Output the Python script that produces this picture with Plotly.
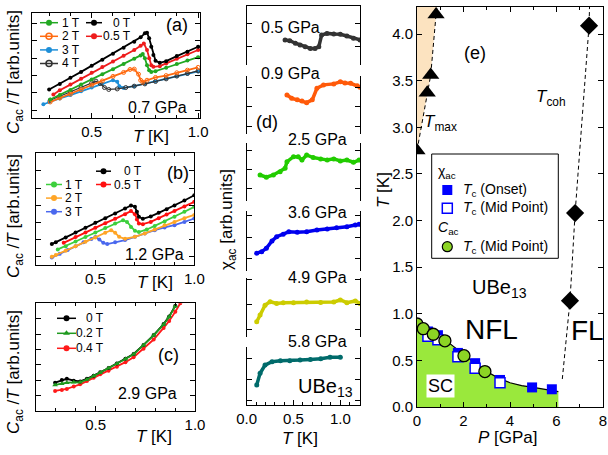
import plotly.graph_objects as go

W, H = 608, 455
FONT = "Liberation Sans, Arial, Helvetica, sans-serif"


def fx(px):
    return px / W


def fy(py):
    return 1 - py / H


def dom_x(a, b):
    return [fx(a), fx(b)]


def dom_y(top, bottom):
    return [fy(bottom), fy(top)]


# ================= DATA =================
# ---- (a) 0.7 GPa : C_ac/T [arb. units] vs T [K]
a_T_0T = [0.30, 0.35, 0.40, 0.45, 0.50, 0.55, 0.60, 0.65, 0.70, 0.73, 0.75, 0.76, 0.77, 0.78, 0.79, 0.80, 0.82, 0.85, 0.90, 0.95, 1.00]
a_y_0T = [1.20, 1.52, 1.87, 2.21, 2.56, 2.91, 3.26, 3.60, 3.95, 4.20, 4.43, 4.47, 4.14, 3.66, 3.18, 2.85, 2.73, 2.83, 3.12, 3.37, 3.66]
a_T_05T = [0.32, 0.35, 0.40, 0.45, 0.50, 0.55, 0.60, 0.65, 0.70, 0.73, 0.745, 0.76, 0.77, 0.78, 0.79, 0.82, 0.85, 0.90, 0.95, 1.00]
a_y_05T = [0.91, 1.16, 1.48, 1.81, 2.16, 2.49, 2.81, 3.14, 3.47, 3.72, 3.85, 3.47, 2.99, 2.60, 2.50, 2.54, 2.70, 2.97, 3.22, 3.47]
a_T_1T = [0.305, 0.35, 0.40, 0.45, 0.50, 0.55, 0.60, 0.65, 0.70, 0.73, 0.74, 0.75, 0.76, 0.77, 0.78, 0.80, 0.85, 0.90, 0.95, 1.00]
a_y_1T = [0.62, 0.88, 1.17, 1.48, 1.77, 2.08, 2.37, 2.66, 2.97, 3.16, 3.24, 2.99, 2.60, 2.31, 2.21, 2.25, 2.45, 2.66, 2.87, 3.06]
a_T_2T = [0.305, 0.35, 0.40, 0.45, 0.50, 0.55, 0.60, 0.65, 0.68, 0.70, 0.72, 0.73, 0.74, 0.76, 0.80, 0.85, 0.90, 0.95, 1.00]
a_y_2T = [0.48, 0.71, 0.94, 1.19, 1.45, 1.69, 1.95, 2.18, 2.35, 2.37, 2.08, 1.73, 1.62, 1.73, 1.89, 2.00, 2.16, 2.31, 2.47]
a_T_3T = [0.273, 0.30, 0.35, 0.40, 0.45, 0.50, 0.55, 0.60, 0.62, 0.63, 0.65, 0.70, 0.75, 0.80, 0.85, 0.90, 0.95, 1.00]
a_y_3T = [0.35, 0.48, 0.68, 0.88, 1.10, 1.31, 1.52, 1.73, 1.64, 1.39, 1.29, 1.39, 1.54, 1.69, 1.83, 1.97, 2.10, 2.24]
a_T_4T = [0.305, 0.35, 0.40, 0.45, 0.50, 0.52, 0.54, 0.56, 0.58, 0.62, 0.66, 0.70, 0.75, 0.80, 0.85, 0.90, 0.95, 1.00]
a_y_4T = [0.58, 0.81, 1.06, 1.31, 1.58, 1.68, 1.54, 1.31, 1.20, 1.23, 1.31, 1.39, 1.52, 1.66, 1.81, 1.97, 2.12, 2.27]

# ---- (b) 1.2 GPa
b_T_0T = [0.28, 0.30, 0.35, 0.40, 0.45, 0.50, 0.55, 0.60, 0.65, 0.68, 0.70, 0.71, 0.72, 0.74, 0.78, 0.82, 0.86, 0.90, 0.95, 1.00]
b_y_0T = [0.74, 0.85, 1.13, 1.42, 1.69, 1.98, 2.25, 2.52, 2.81, 2.99, 2.91, 2.62, 2.33, 2.21, 2.35, 2.56, 2.77, 2.99, 3.28, 3.59]
b_T_05T = [0.34, 0.40, 0.45, 0.50, 0.55, 0.60, 0.65, 0.68, 0.70, 0.71, 0.72, 0.74, 0.78, 0.82, 0.86, 0.90, 0.95, 1.00]
b_y_05T = [0.81, 1.15, 1.42, 1.69, 1.96, 2.21, 2.48, 2.66, 2.48, 2.17, 1.94, 1.90, 2.03, 2.25, 2.46, 2.67, 2.93, 3.20]
b_T_1T = [0.31, 0.35, 0.40, 0.45, 0.50, 0.55, 0.60, 0.64, 0.66, 0.68, 0.70, 0.72, 0.76, 0.80, 0.85, 0.90, 0.95, 1.00]
b_y_1T = [0.43, 0.62, 0.89, 1.15, 1.42, 1.67, 1.94, 2.13, 2.03, 1.74, 1.51, 1.44, 1.59, 1.80, 2.06, 2.33, 2.62, 2.91]
b_T_2T = [0.28, 0.30, 0.35, 0.40, 0.45, 0.50, 0.55, 0.58, 0.60, 0.62, 0.65, 0.70, 0.75, 0.80, 0.85, 0.90, 0.95, 1.00]
b_y_2T = [0.00, 0.10, 0.35, 0.62, 0.87, 1.13, 1.40, 1.55, 1.40, 1.16, 1.05, 1.16, 1.36, 1.59, 1.83, 2.03, 2.25, 2.44]
b_T_3T = [0.28, 0.32, 0.36, 0.40, 0.44, 0.48, 0.50, 0.52, 0.54, 0.56, 0.60, 0.65, 0.70, 0.75, 0.80, 0.85, 0.90, 0.95, 1.00]
b_y_3T = [-0.05, 0.17, 0.39, 0.62, 0.84, 1.03, 1.15, 1.01, 0.81, 0.74, 0.85, 0.97, 1.16, 1.36, 1.55, 1.71, 1.84, 2.03, 2.23]

# ---- (c) 2.9 GPa
c_T = [0.296, 0.33, 0.355, 0.39, 0.422, 0.456, 0.49, 0.523, 0.565, 0.607, 0.65, 0.691, 0.741, 0.792, 0.842, 0.87, 0.901]
c_y_0T = [0.85, 1.02, 1.10, 0.98, 0.93, 1.10, 1.30, 1.52, 1.80, 2.10, 2.40, 2.71, 3.30, 3.94, 4.65, 5.15, 5.84]
c_y_02T = [0.70, 0.78, 0.85, 0.87, 0.88, 1.05, 1.28, 1.50, 1.78, 2.08, 2.38, 2.69, 3.28, 3.92, 4.63, 5.12, 5.82]
c_T_04T = [0.296, 0.33, 0.355, 0.39, 0.422, 0.456, 0.49, 0.523, 0.565, 0.607, 0.65, 0.691, 0.741, 0.792, 0.842, 0.87, 0.901, 0.926]
c_y_04T = [0.31, 0.38, 0.44, 0.60, 0.74, 0.95, 1.17, 1.39, 1.62, 1.88, 2.18, 2.50, 3.05, 3.65, 4.40, 4.85, 5.45, 6.00]

# ---- (d) chi_ac [arb. units] vs T [K], one box per pressure
d_labels = ["0.5 GPa", "0.9 GPa", "2.5 GPa", "3.6 GPa", "4.9 GPa", "5.8 GPa"]
d_T_05 = [0.41, 0.46, 0.52, 0.57, 0.625, 0.68, 0.73, 0.77, 0.80, 0.857, 0.93, 1.00, 1.07, 1.14, 1.21]
d_y_05 = [0.29, 0.26, 0.15, 0.07, 0.00, -0.07, -0.07, 0.00, 0.50, 0.57, 0.54, 0.53, 0.46, 0.36, 0.29]
d_T_09 = [0.43, 0.48, 0.54, 0.59, 0.64, 0.70, 0.75, 0.82, 0.93, 1.00, 1.05, 1.11, 1.18, 1.21]
d_y_09 = [1.61, 1.44, 1.36, 1.30, 1.22, 1.36, 1.95, 2.12, 2.17, 2.28, 2.22, 2.20, 2.07, 2.00]
d_T_25 = [0.143, 0.21, 0.285, 0.357, 0.41, 0.43, 0.50, 0.55, 0.59, 0.64, 0.71, 0.79, 0.86, 0.93, 1.00, 1.07, 1.14, 1.20]
d_y_25 = [0.71, 0.59, 0.71, 0.89, 1.07, 1.42, 1.69, 1.69, 1.51, 1.78, 1.64, 1.57, 1.51, 1.57, 1.46, 1.51, 1.39, 1.51]
d_T_36 = [0.107, 0.16, 0.21, 0.27, 0.32, 0.39, 0.45, 0.54, 0.64, 0.75, 0.86, 0.96, 1.07, 1.16, 1.20]
d_y_36 = [0.24, 0.31, 0.47, 0.82, 1.02, 1.13, 1.25, 1.23, 1.25, 1.33, 1.38, 1.44, 1.49, 1.57, 1.60]
d_T_49 = [0.107, 0.143, 0.196, 0.25, 0.32, 0.39, 0.50, 0.64, 0.79, 0.93, 1.00, 1.07, 1.16, 1.21]
d_y_49 = [0.31, 0.58, 0.98, 1.12, 1.05, 1.08, 1.08, 1.11, 1.09, 1.11, 1.19, 1.08, 1.15, 1.05]
d_T_58 = [0.107, 0.143, 0.196, 0.27, 0.36, 0.46, 0.57, 0.68, 0.79, 0.89, 1.00]
d_y_58 = [0.73, 1.29, 1.68, 1.84, 1.89, 1.89, 1.92, 1.95, 1.98, 2.05, 2.05]

# ---- (e) phase diagram T [K] vs P [GPa]
e_Tmax_P = [0.0, 0.44, 0.59, 0.82]
e_Tmax_T = [2.75, 3.37, 3.56, 4.21]
e_Tmax_guide_P = [0.0, 0.44, 0.59, 0.82, 0.86]
e_Tmax_guide_T = [2.75, 3.37, 3.56, 4.21, 4.29]
e_Tcoh_P = [6.58, 6.80, 7.40]
e_Tcoh_T = [1.14, 2.08, 4.09]
e_Tcoh_guide_P = [6.25, 6.58, 6.80, 7.40, 7.42]
e_Tcoh_guide_T = [0.30, 1.14, 2.08, 4.09, 4.29]
e_onset_P = [0.47, 0.90, 1.76, 2.50, 3.57, 4.95, 5.80]
e_onset_T = [0.81, 0.77, 0.58, 0.47, 0.29, 0.21, 0.19]
e_mid_P = [0.47, 0.90, 1.76, 2.50, 3.57]
e_mid_T = [0.76, 0.72, 0.54, 0.415, 0.26]
e_cac_P = [0.0, 0.27, 0.70, 1.20, 2.02, 2.92]
e_cac_T = [0.89, 0.84, 0.78, 0.71, 0.55, 0.38]
e_SC_P = [0.0, 0.5, 1.0, 1.5, 2.0, 2.5, 3.0, 3.5, 4.0, 4.5, 5.0, 5.5, 6.0, 6.08]
e_SC_T = [0.90, 0.84, 0.76, 0.66, 0.56, 0.47, 0.38, 0.31, 0.26, 0.23, 0.21, 0.19, 0.17, 0.165]

# ================= FIGURE =================
fig = go.Figure()


def curve(x, y, xa, ya, color, symbol="circle", size=4, lw=1.5, mode="lines+markers", dash=None, fill=None, fillcolor=None, mline=0):
    fig.add_trace(go.Scatter(
        x=x, y=y, xaxis=xa, yaxis=ya, mode=mode,
        line=dict(color=color, width=lw, dash=dash),
        marker=dict(color=color, symbol=symbol, size=size, line=dict(color=color if mline == 0 else "black", width=mline)),
        fill=fill, fillcolor=fillcolor,
        showlegend=False, hoverinfo="skip"))


# (a)
C_a = dict(g="#22a822", r="#ee1c1c", o="#ff6a10", b="#1e8fd8", k="#000000", gr="#333333")
curve(a_T_3T, a_y_3T, "x", "y", C_a["b"], lw=1.8)
curve(a_T_4T, a_y_4T, "x", "y", C_a["gr"], symbol="circle-open", size=4, lw=1.2)
curve(a_T_2T, a_y_2T, "x", "y", C_a["o"], symbol="circle-open", lw=1.8)
curve(a_T_1T, a_y_1T, "x", "y", C_a["g"], lw=1.8)
curve(a_T_05T, a_y_05T, "x", "y", C_a["r"], lw=1.8)
curve(a_T_0T, a_y_0T, "x", "y", C_a["k"], lw=1.8)

# (b)
C_b = dict(g="#3ccf3c", r="#ff1010", o="#ffa526", b="#4a68ee", k="#000000")
curve(b_T_3T, b_y_3T, "x2", "y2", C_b["b"], lw=1.8)
curve(b_T_2T, b_y_2T, "x2", "y2", C_b["o"], lw=1.8)
curve(b_T_1T, b_y_1T, "x2", "y2", C_b["g"], lw=1.8)
curve(b_T_05T, b_y_05T, "x2", "y2", C_b["r"], lw=1.8)
curve(b_T_0T, b_y_0T, "x2", "y2", C_b["k"], lw=1.8)

# (c)
C_c = dict(k="#000000", g="#1f9a1f", r="#ff1a1a")
curve(c_T_04T, c_y_04T, "x3", "y3", C_c["r"], lw=1.8)
curve(c_T, c_y_0T, "x3", "y3", C_c["k"], lw=1.8)
curve(c_T, c_y_02T, "x3", "y3", C_c["g"], symbol="triangle-up", size=5, lw=1.8)

# (d)
d_series = [(d_T_05, d_y_05, "#333333"), (d_T_09, d_y_09, "#ff5a0a"), (d_T_25, d_y_25, "#22cc00"),
            (d_T_36, d_y_36, "#0000ee"), (d_T_49, d_y_49, "#cccc00"), (d_T_58, d_y_58, "#006b6b")]
for i, (tx, ty, col) in enumerate(d_series):
    curve(tx, ty, "x%d" % (4 + i), "y%d" % (4 + i), col, size=5, lw=3.5)

# (e)
curve(e_Tmax_guide_P + [0.0], e_Tmax_guide_T + [4.29], "x10", "y10", "rgba(0,0,0,0)", mode="lines", lw=0,
      fill="toself", fillcolor="#fce3c0")
curve(e_SC_P, e_SC_T, "x10", "y10", "rgba(0,0,0,0)", mode="lines", lw=0, fill="tozeroy", fillcolor="#9ae83c")
curve(e_SC_P, e_SC_T, "x10", "y10", "black", mode="lines", lw=1.2)
curve(e_Tmax_guide_P, e_Tmax_guide_T, "x10", "y10", "black", mode="lines", lw=1, dash="4px,3px")
curve(e_Tcoh_guide_P, e_Tcoh_guide_T, "x10", "y10", "black", mode="lines", lw=1, dash="4px,3px")
curve(e_Tmax_P, e_Tmax_T, "x10", "y10", "black", mode="markers", symbol="triangle-up", size=15)
curve(e_Tcoh_P, e_Tcoh_T, "x10", "y10", "black", mode="markers", symbol="diamond", size=14)
curve(e_onset_P, e_onset_T, "x10", "y10", "#0000ff", mode="markers", symbol="square", size=10)
fig.add_trace(go.Scatter(x=e_mid_P, y=e_mid_T, xaxis="x10", yaxis="y10", mode="markers",
                         marker=dict(symbol="square", size=10, color="white", line=dict(color="#0000ff", width=1.5)),
                         showlegend=False, hoverinfo="skip"))
fig.add_trace(go.Scatter(x=e_cac_P, y=e_cac_T, xaxis="x10", yaxis="y10", mode="markers",
                         marker=dict(symbol="circle", size=12, color="#8cd424", line=dict(color="black", width=1.3)),
                         showlegend=False, hoverinfo="skip"))

# ---------- hand-built legends (keys drawn on a pixel overlay axis) ----------
annots = []


def text(px, py, s, size, xanchor="center", yanchor="middle", angle=0, bg=None, pad=1):
    d = dict(x=fx(px), y=fy(py), xref="paper", yref="paper", text=s, showarrow=False,
             font=dict(family=FONT, size=size, color="black"), xanchor=xanchor, yanchor=yanchor,
             textangle=angle, borderpad=pad)
    if bg:
        d.update(bgcolor=bg)
    annots.append(d)


def key(x0, x1, yc, color, symbol, size=6, line=True):
    if line:
        fig.add_trace(go.Scatter(x=[x0, x1], y=[yc, yc], xaxis="x11", yaxis="y11", mode="lines",
                                 line=dict(color=color, width=1.5), showlegend=False, hoverinfo="skip"))
    fig.add_trace(go.Scatter(x=[(x0 + x1) / 2], y=[yc], xaxis="x11", yaxis="y11", mode="markers",
                             marker=dict(color=color, symbol=symbol, size=size,
                                         line=dict(color=color, width=1.5 if "open" in symbol else 0)),
                             showlegend=False, hoverinfo="skip"))


LEG = 12
# (a)
a_leg1 = [("1 T", C_a["g"], "circle"), ("2 T", C_a["o"], "circle-open"), ("3 T", C_a["b"], "circle"), ("4 T", C_a["gr"], "circle-open")]
for i, (lab, col, sym) in enumerate(a_leg1):
    yy = 22.7 + 13.6 * i
    key(40, 58, yy, col, sym)
    text(61, yy, lab, LEG, xanchor="left", pad=0)
a_leg2 = [("0 T", C_a["k"]), ("0.5 T", C_a["r"])]
for i, (lab, col) in enumerate(a_leg2):
    yy = 22.7 + 13.6 * i
    key(86, 102, yy, col, "circle")
    text(132, yy, lab, LEG, xanchor="right", pad=0)
# (b)
b_leg1 = [("1 T", C_b["g"]), ("2 T", C_b["o"]), ("3 T", C_b["b"])]
for i, (lab, col) in enumerate(b_leg1):
    yy = 184.5 + 13.6 * i
    key(46, 62, yy, col, "circle")
    text(64, yy, lab, LEG, xanchor="left", pad=0)
b_leg2 = [("0 T", C_b["k"]), ("0.5 T", C_b["r"])]
for i, (lab, col) in enumerate(b_leg2):
    yy = 171.2 + 13.3 * i
    key(96, 111, yy, col, "circle")
    text(143, yy, lab, LEG, xanchor="right", pad=0)
# (c)
c_leg = [("0 T", C_c["k"], "circle"), ("0.2 T", C_c["g"], "triangle-up"), ("0.4 T", C_c["r"], "circle")]
for i, (lab, col, sym) in enumerate(c_leg):
    yy = 318.3 + 15 * i
    key(57, 76, yy, col, sym)
    text(105, yy, lab, LEG, xanchor="right", pad=0)
# (e)
fig.add_shape(type="rect", xref="paper", yref="paper", x0=fx(431.7), x1=fx(558.3), y0=fy(258.3), y1=fy(154),
              line=dict(color="black", width=1), fillcolor="white", layer="below")
text(437, 172, "χ<sub>ac</sub>", 14, xanchor="left", pad=0)
key(447.3, 447.3, 190, "#0000ff", "square", size=10, line=False)
text(461.7, 190, "<i>T</i><sub>c</sub> (Onset)", 14, xanchor="left", pad=0)
fig.add_trace(go.Scatter(x=[447.3], y=[208.3], xaxis="x11", yaxis="y11", mode="markers",
                         marker=dict(symbol="square", size=10, color="white", line=dict(color="#0000ff", width=1.5)),
                         showlegend=False, hoverinfo="skip"))
text(461.7, 208.3, "<i>T</i><sub>c</sub> (Mid Point)", 14, xanchor="left", pad=0)
text(437, 228, "<i>C</i><sub>ac</sub>", 14, xanchor="left", pad=0)
fig.add_trace(go.Scatter(x=[447.3], y=[246.7], xaxis="x11", yaxis="y11", mode="markers",
                         marker=dict(symbol="circle", size=10, color="#8cd424", line=dict(color="black", width=1.2)),
                         showlegend=False, hoverinfo="skip"))
text(461.7, 246.7, "<i>T</i><sub>c</sub> (Mid Point)", 14, xanchor="left", pad=0)

# ---------- text ----------
CAC = "<i>C</i><sub>ac</sub> /<i>T</i> [arb.units]"
TK = "<i>T</i> [K]"
text(15, 72, CAC, 17, angle=-90)
text(15, 216, CAC, 17, angle=-90)
text(15, 372, CAC, 17, angle=-90)
text(151, 136, TK, 17)
text(155, 282, TK, 17)
text(154, 436, TK, 17)
text(300, 438, TK, 17)
text(228, 220, "χ<sub>ac</sub> [arb.units]", 17, angle=-90)
text(383, 190, TK, 17, angle=-90)
text(508, 437, "<i>P</i> [GPa]", 17)

text(177, 25, "(a)", 18)
text(178, 173, "(b)", 18)
text(168, 355, "(c)", 18)
text(267, 122, "(d)", 18)
text(475, 53, "(e)", 18)
text(157, 107, "0.7 GPa", 16)
text(154, 254, "1.2 GPa", 16)
text(147, 393, "2.9 GPa", 16)

d_label_pos = [(290, 27), (290, 73), (317, 139), (317, 212), (317, 277), (317, 341)]
for lab, (px, py) in zip(d_labels, d_label_pos):
    text(px, py, lab, 16)
text(325, 387, "UBe<sub>13</sub>", 20)

text(440, 123, "<i>T</i><sub>max</sub>", 17)
text(551, 98, "<i>T</i><sub>coh</sub>", 17)
text(500, 288, "UBe<sub>13</sub>", 20)
text(491, 329, "NFL", 28)
text(587, 330, "FL", 28)
text(440, 386, "SC", 18, bg="white")

# ---------- axes ----------
TF = dict(family=FONT, size=15, color="black")


def base(**kw):
    d = dict(showline=True, linecolor="black", linewidth=1, mirror="ticks", ticks="inside", ticklen=5,
             tickcolor="black", tickwidth=1, showgrid=False, zeroline=False, tickfont=TF)
    d.update(kw)
    return d


minor01 = dict(dtick=0.1, tick0=0, ticks="inside", ticklen=3, tickcolor="black", showgrid=False)

layout = dict(
    width=W, height=H, margin=dict(l=0, r=0, t=0, b=0, autoexpand=False),
    paper_bgcolor="white", plot_bgcolor="rgba(0,0,0,0)", showlegend=False,
    font=dict(family=FONT, color="black"),
    xaxis=base(domain=dom_x(31.7, 200), range=[0.218, 1.009], anchor="y", tickvals=[0.5, 1.0],
               ticktext=["0.5", "1.0"], minor=minor01),
    yaxis=base(domain=dom_y(13, 118.3), range=[-0.46, 5.6], anchor="x", tickvals=[0, 1, 2, 3, 4, 5],
               showticklabels=False),
    xaxis2=base(domain=dom_x(36, 194.3), range=[0.2, 1.0], anchor="y2", tickvals=[0.5, 1.0],
                ticktext=["0.5", "1.0"], minor=minor01),
    yaxis2=base(domain=dom_y(153.3, 265), range=[-0.48, 6.03], anchor="x2", tickvals=[0, 1, 2, 3, 4, 5],
                showticklabels=False),
    xaxis3=base(domain=dom_x(36, 195), range=[0.2, 1.0], anchor="y3", tickvals=[0.5, 1.0],
                ticktext=["0.5", "1.0"], minor=minor01),
    yaxis3=base(domain=dom_y(303.3, 411), range=[-0.99, 6.0], anchor="x3", tickvals=[0, 1, 2, 3, 4, 5],
                showticklabels=False),
    xaxis10=base(domain=dom_x(417, 603), range=[0, 8], anchor="y10", tickvals=[0, 2, 4, 6, 8],
                 minor=dict(dtick=1, tick0=0, ticks="inside", ticklen=3, tickcolor="black")),
    yaxis10=base(domain=dom_y(7, 407), range=[0, 4.29], anchor="x10", dtick=0.5, tick0=0, tickformat=".1f"),
    xaxis11=dict(domain=[0, 1], range=[0, W], anchor="y11", visible=False),
    yaxis11=dict(domain=[0, 1], range=[H, 0], anchor="x11", visible=False),
)

d_boxes = [(6, 65), (76, 134), (143, 201), (211, 271), (278, 337), (347, 405)]
d_ranges = [[-0.78, 1.74], [-0.37, 2.57], [-0.68, 2.42], [-0.6, 2.23], [-0.31, 2.08], [-0.22, 2.54]]
d_ticks = [[0, 1], [0, 1, 2], [0, 1, 2], [0, 1, 2], [0, 1, 2], [0, 1, 2]]
for i in range(6):
    n = 4 + i
    top, bot = d_boxes[i]
    layout["yaxis%d" % n] = base(domain=dom_y(top, bot), range=d_ranges[i], anchor="x%d" % n,
                                 tickvals=d_ticks[i], showticklabels=False)
    xd = dict(domain=dom_x(246.7, 360), range=[0, 1.21], anchor="y%d" % n, showgrid=False, zeroline=False)
    if i == 0:
        xd.update(showline=True, linecolor="black", linewidth=1, side="top", ticks="", showticklabels=False)
    elif i == 5:
        xd = base(**xd)
        xd.update(mirror=False, tickvals=[0, 0.5, 1.0], ticktext=["0.0", "0.5", "1.0"], minor=minor01)
    else:
        xd.update(visible=False)
    layout["xaxis%d" % n] = xd

layout["annotations"] = annots
fig.update_layout(**layout)
fig.write_html("out.html")
